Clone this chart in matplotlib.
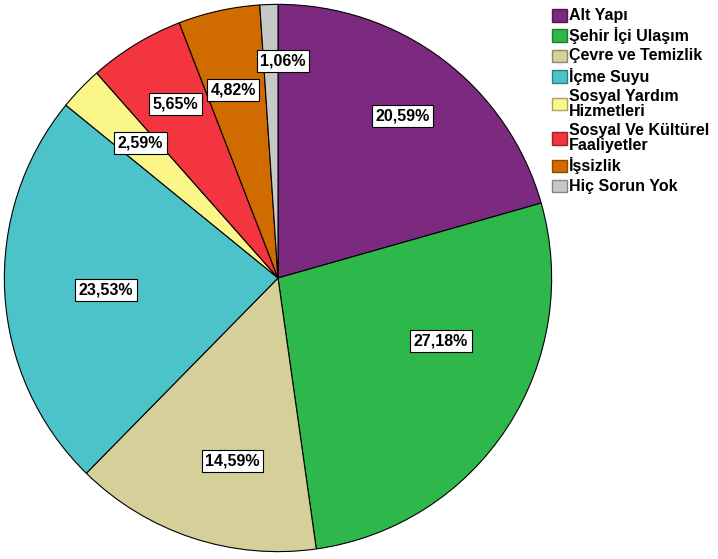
import numpy as np
import matplotlib
matplotlib.use("Agg")
import matplotlib.pyplot as plt
from matplotlib.patches import Patch

categories = ["Alt Yapı", "Şehir İçi Ulaşım", "Çevre ve Temizlik", "İçme Suyu",
              "Sosyal Yardım\nHizmetleri", "Sosyal Ve Kültürel\nFaaliyetler",
              "İşsizlik", "Hiç Sorun Yok"]
percent = [20.59, 27.18, 14.59, 23.53, 2.59, 5.65, 4.82, 1.06]
colors = ["#7C2980", "#2EB84B", "#D5CF9A", "#4CC3C8",
          "#FAF68A", "#F2353F", "#D06B00", "#C8C8C8"]
edges = ["#4E1A52", "#1E7A32", "#8E8A66", "#327F83",
         "#A6A35C", "#A0232A", "#8A4700", "#858585"]
# where the value boxes sit, in pie units
label_x = [0.455, 0.596, -0.167, -0.629, -0.502, -0.375, -0.164, 0.018]
label_y = [0.593, -0.229, -0.669, -0.044, 0.495, 0.636, 0.687, 0.793]

plt.rcParams['font.family'] = ['Liberation Sans', 'DejaVu Sans']

fig = plt.figure(figsize=(7.18, 5.59), dpi=100)
ax = fig.add_axes([3/718, 6/559, 550/718, 550/559])
ax.pie(percent, colors=colors, startangle=90, counterclock=False, radius=1,
       wedgeprops=dict(edgecolor="black", linewidth=0.8))
ax.set_xlim(-1.005, 1.005)
ax.set_ylim(-1.005, 1.005)
ax.set_aspect('equal')

for v, x, y in zip(percent, label_x, label_y):
    txt = "{:.2f}%".format(v).replace(".", ",")
    ax.text(x, y, txt, ha="center", va="center", fontsize=11.5, fontweight="bold",
            bbox=dict(boxstyle="square,pad=0.22", facecolor="white",
                      edgecolor="black", linewidth=0.8))

handles = [Patch(facecolor=c, edgecolor=e, linewidth=1.0) for c, e in zip(colors, edges)]
leg = fig.legend(handles, categories, loc="upper left",
                 bbox_to_anchor=(552/718, 1 - 8/559),
                 frameon=False, borderpad=0, borderaxespad=0,
                 prop=dict(size=11.5, weight="bold"),
                 handlelength=0.95, handleheight=0.85, handletextpad=0.12,
                 labelspacing=0.265)
for t in leg.get_texts():
    t.set_linespacing(1.0)
# center the colour box on two-line labels
for col in leg._legend_handle_box.get_children():
    for row in col.get_children():
        row.align = "center"

fig.savefig("out.png", dpi=100)
